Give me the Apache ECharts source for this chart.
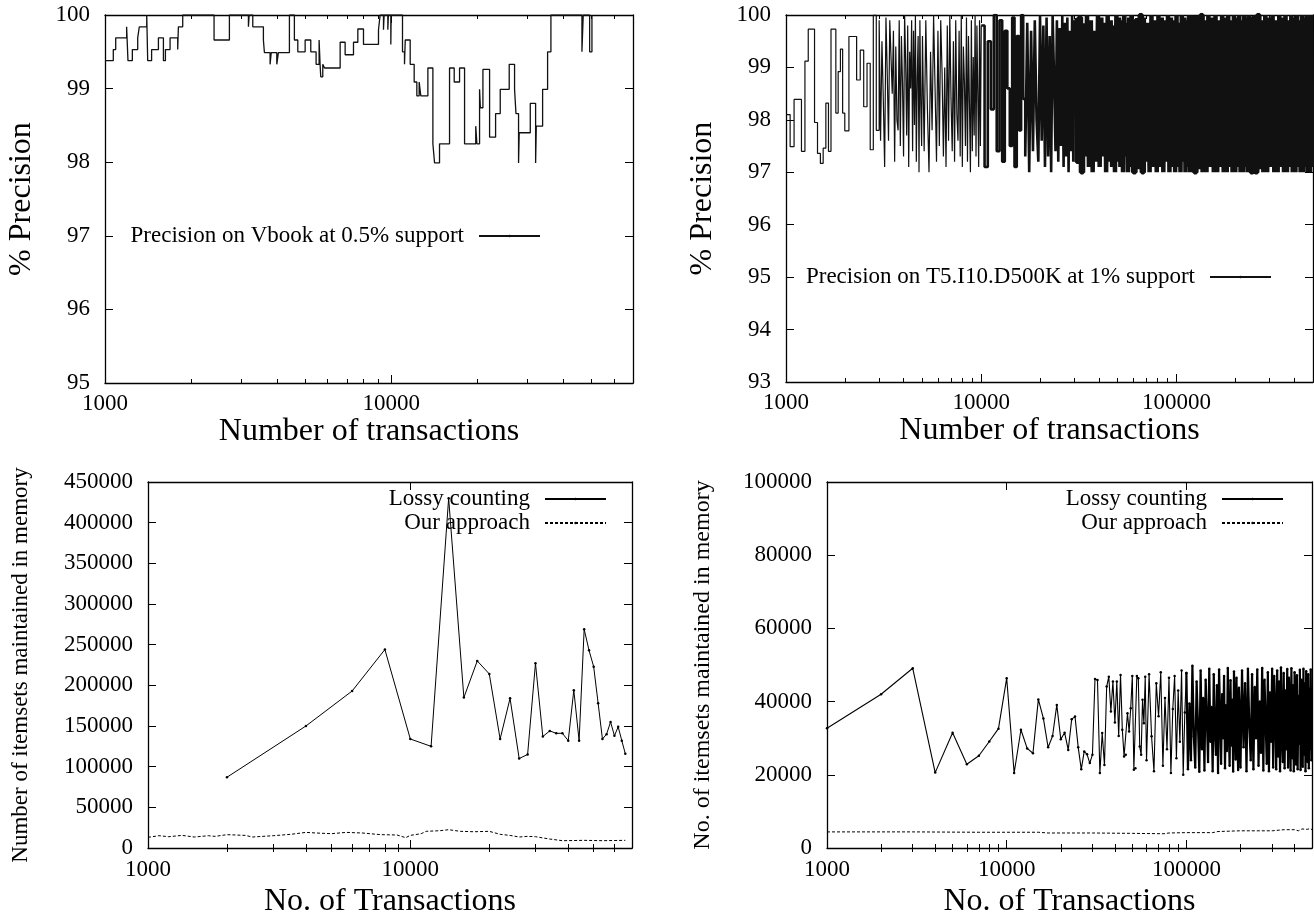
<!DOCTYPE html>
<html>
<head>
<meta charset="utf-8">
<title>Precision and memory of stream itemset mining</title>
<script src="https://cdn.jsdelivr.net/npm/echarts@6/dist/echarts.min.js"></script>
<style>
  html, body { margin: 0; padding: 0; background: #fff; }
  #chart { width: 1314px; height: 920px; }
</style>
</head>
<body>
<div id="chart"></div>
<script>
// ---------- Vbook, 0.5% support: precision level holding from each transaction count ----------
const vbookTx = [1000,1069,1090,1190,1203,1246,1301,1318,1399,1410,
  1455,1537,1600,1626,1688,1795,1805,1869,2405,2721,
  3171,3190,3284,3577,3606,3775,3810,3984,4036,4410,
  4590,4718,5005,5237,5466,5600,5644,5675,5768,5850,
  6633,6905,7385,7647,8004,9030,9152,9401,9450,9735,
  9780,9973,10000,10955,11133,11200,11654,12034,12295,12527,
  12696,13437,13989,14179,14757,15996,16607,17338,18051,19750,
  19934,20367,20500,20923,22077,23170,24054,25854,26991,27300,
  27872,28020,30630,31973,32150,33825,35209,36162,46416,46900,
  49377,50308];
const vbookPrec = [99.38,99.53,99.69,99.84,99.38,99.53,99.69,99.84,100,99.38,
  99.53,99.69,99.38,99.53,99.69,99.53,99.84,100,99.66,100,
  99.84,100,99.84,99.66,99.49,99.33,99.49,99.33,99.49,100,
  99.66,99.50,99.66,99.50,99.33,99.66,99.33,99.16,99.33,99.28,
  99.63,99.46,99.63,99.81,99.60,99.80,100,99.80,100,99.80,
  100,99.60,100,99.50,99.33,99.66,99.33,99.09,98.90,99.09,
  98.90,99.28,98.25,97.99,98.25,99.28,99.09,99.28,98.25,98.49,
  98.25,98.99,98.74,99.26,98.34,98.66,98.99,99.33,98.99,98.66,
  97.99,98.40,98.80,97.99,98.49,98.99,99.50,100,99.50,100,
  99.50,100];

// ---------- T5.I10.D500K, 1% support: precision on a sampling grid that widens with the count ----------
const t5PrecFrom1000 = [98.10,97.49,98.39,98.39,97.40,99.12,99.73,99.73,97.95,97.36,
  97.17,97.46,98.32,97.40,99.73,99.73,98.13,98.92,99.35,98.13];                // every 50
const t5PrecFrom2000 = [97.79,99.59,99.59,98.76,99.33,98.25,99.08,97.43,100.0,97.80]; // every 100
const t5PrecFrom3000 = [99.90,97.60,99.50,98.40,97.10,99.95,98.90,97.60,99.90,99.20,
  98.50,99.70,97.20,99.40,98.00,97.80,99.90,97.50,99.60,98.70,
  97.30,100.0,99.10,97.70,99.80,97.10,99.30,98.60,99.90,97.40,
  99.70,97.90,100.0,97.20,98.80,99.60,97.00,99.90,98.30,97.50];              // every 50
const t5PrecFrom5000 = [99.60,97.40,99.90,98.20,97.00,99.30,97.80,100.0,98.60,97.20,
  99.70,97.50,99.90,98.90,97.30,99.00,97.10,99.80,97.60,100.0,
  98.40,97.40,99.50,97.20,99.90,98.10,97.60,99.70,97.30,100.0,
  97.10,99.40,98.70,97.50,99.95,97.20,99.60,98.30,97.00,99.90,
  97.40,99.20,97.70,100.0,97.30,99.80,98.50,97.10,99.90,97.50];              // every 100
const t5PrecFrom10k = [99.80,97.10,99.50,98.20,100.0,97.40,99.90,97.20,99.70,98.60,
  97.50,99.95,97.10,99.60,97.80,100.0,98.40,97.30,99.85,97.00,
  99.70,97.40,99.90,98.00,97.20,100.0,97.60,99.80,97.10,99.95,
  97.30,99.60,97.00,100.0,98.80,97.40,99.90,97.20,99.75,97.50,
  100.0,97.10,99.85,97.30,99.95,97.00,99.70,97.40,100.0,97.20];              // every 400
const t5PrecFrom30k = [99.90,97.20,99.95,97.00,99.80,97.30,100.0,97.10,99.90,97.00,
  99.70,97.20,100.0,97.10,99.95,97.30,99.85,97.00,100.0,97.20,
  99.90,97.10,99.80,97.00,100.0,97.20,99.95,97.10,99.90,97.00,
  100.0,97.30,99.85,97.00,99.95,97.10,100.0];                                 // every 800
const t5PrecFrom60k = [97.00,99.90,97.10,100.0,97.00,99.95,97.20,99.85,97.00,100.0,
  97.10,99.90,97.00,100.0,97.10,99.95,97.00,99.90,97.20,100.0,
  97.00,99.95,97.10,99.90,97.00,100.0,97.10,99.85,97.00,100.0,
  97.20,99.95,97.00,99.90,97.10,100.0,97.00];                                 // every 1600
const t5PrecFrom120k = [99.95,97.00,99.95,97.10,100.0,97.00,99.90,97.00,100.0,97.10,
  99.95,97.00,100.0,97.00,99.90,97.10,100.0,97.00,99.95,97.00,
  100.0,97.10,99.90,97.00,100.0,97.00,99.95,97.10,100.0,97.00,
  99.90,97.00,100.0,97.10,99.95,97.00,100.0];                                 // every 3200
const t5PrecFrom240k = [97.00,99.95,97.00,100.0,97.10,99.90,97.00,100.0,97.00,99.95,
  97.10,100.0,97.00,99.90,97.00,100.0,97.10,99.95,97.00,100.0,
  97.00,99.90,97.10,100.0,97.00,99.95,97.00,100.0,97.10,99.90,
  97.00,100.0,97.00,99.95,97.10,100.0,97.00,99.90,97.00,100.0,
  97.10];                                                                      // every 6400

// ---------- Vbook memory: itemsets held ----------
const vbookLossyTx = [2000,4000,6000,8000,10000,12000,14000,16000,18000,20000,
  22000,24000,26000,28000,30000,32000,34000,36000,38000,40000,
  42000,44000,46000,48000,50000,52000,54000,56000,58000,60000,
  62000,64000,66000];
const vbookLossy = [87000,150000,193000,244000,134000,125000,430000,185000,230000,214000,
  134000,184000,110000,115000,227000,137000,144000,141000,141000,132000,
  194000,132000,269000,243000,223000,178000,134000,140000,155000,138000,
  149000,132000,116000];
const vbookOursTx = [1000,1100,1200,1350,1500,1700,1800,2000,2350,2500,
  3000,3500,4000,4400,5000,5700,6600,7700,8900,9600,
  10000,11000,11500,13000,14000,15500,17500,20000,22000,24000,
  26000,28000,30000,34000,38000,46000,54000,66000];
const vbookOurs = [13100,15100,13900,15500,13500,15100,14300,16400,15500,13500,
  15100,16800,19200,18400,17600,19200,18400,16400,16000,12700,
  15500,17600,20500,21300,22500,20500,20000,20500,16800,15500,
  13500,14300,13900,11000,9000,9400,9000,9400];

// ---------- T5.I10.D500K memory: Lossy counting on a widening grid ----------
const t5LossyFrom1000 = [32700,42000,49100,20600,31500,22900,25200,29100,32600,46400,
  20500,32300,27200,25900,40600,35400,27500,30600,39100,29700,
  31500,26800,35200,35900,27500,21500,26400,25600,23200,25500,
  46200,45900,20500,31400,22700,44100,46800,37300,45500,34300,
  45500,30600,47300,32300,25000,25500,36800,31800,38200,47000,
  21400,21800,47000,46400,27700,25500,40500,34100,46800];                     // every 1000
const t5LossyFrom60k = [24000,47500,30500,21000,45000,36000,48000,22500,41000,27000,
  46500,20500,38000,47000,24500,43000,29000,48500,20000,37000];               // every 2000
const t5LossyFrom100k = [47800,21500,39500,24000,49800,30500,22000,45500,33500,20800,
  48500,27000,41000,21200,46000,35500,23500,49000,29000,38500,
  21000,47500,32000,25500,44500,20500,48800,36500,23000,42000,
  30000,47000,21800,39000,26500,49200,33000,22500,45800,28000,
  40500,20900,48200,35000,24200,46500,31000,21300,43800,37500];               // every 2000
const t5LossyFrom200k = [22000,48500,27500,45000,21000,49000,33000,24000,47500,21500,
  44000,30000,48800,22500,40000,26000,49200,21200,46000,35000,
  23000,48000,21000,42500,29000,49000,22000,47000,38000,21500,
  48500,25000,45500,21000,49300,31500,23500,47800,21800,43000,
  27000,48900,22000,46500,36000,21200,49100,24500,44500,21000,
  48000,32500,22800,47200,21500,41500,28500,48700,21300,46000,
  34000,22200,49000,25500,45000,21000,48300,30500,23500,47500,
  21800,43500,27000,48800,24000];                                             // every 4000
const t5OursTx = [1000,3000,7000,10000,15000,17000,30000,50000,75000,80000,
  100000,140000,150000,200000,250000,300000,350000,400000,420000,440000,
  470000,490000,500000];
const t5Ours = [4400,4400,4300,4300,4300,4100,4100,4000,3900,4100,
  4200,4200,4500,4700,4700,4700,5000,5000,4700,5200,
  5100,5300,5000];

// ---------- axis ticks ----------
const majorsShort = [1000, 10000];
const minorsShort = [2000,3000,4000,5000,6000,7000,8000,9000,20000,30000,40000,50000,60000];
const majorsLong = [1000, 10000, 100000];
const minorsLong = [2000,3000,4000,5000,6000,7000,8000,9000,
  20000,30000,40000,50000,60000,70000,80000,90000,200000,300000,400000];

// ---------- helpers ----------
const FONT = '"Liberation Serif", "Times New Roman", Times, serif';
const INK = '#000';

function zip(xs, ys) { return ys.map((y, i) => [xs[i], y]); }
function sampled(start, step, values) { return values.map((v, i) => [start + i * step, v]); }

function logAxes(grid, min, max, majors, minors, name, nameGap, labelMargin) {
  const base = {
    type: 'log', logBase: 10, min: min, max: max, gridIndex: grid,
    splitLine: { show: false }, minorTick: { show: false }, minorSplitLine: { show: false }
  };
  const frame = { show: true, onZero: false, lineStyle: { color: INK, width: 1.3 } };
  const tick = (vals, len) => ({ show: true, inside: true, length: len, customValues: vals,
    lineStyle: { color: INK, width: 1 } });
  return [
    Object.assign({}, base, {
      position: 'bottom', name: name, nameLocation: 'middle', nameGap: nameGap,
      nameTextStyle: { fontFamily: FONT, fontSize: 32, color: INK },
      axisLine: frame, axisTick: tick(majors, 8),
      axisLabel: { show: true, customValues: majors, margin: labelMargin, fontFamily: FONT,
        fontSize: 23, color: INK, formatter: v => String(Math.round(v)) }
    }),
    Object.assign({}, base, { position: 'bottom', axisLine: { show: false },
      axisTick: tick(minors, 4), axisLabel: { show: false } }),
    Object.assign({}, base, { position: 'top', axisLine: frame,
      axisTick: tick(majors, 8), axisLabel: { show: false } }),
    Object.assign({}, base, { position: 'top', axisLine: { show: false },
      axisTick: tick(minors, 4), axisLabel: { show: false } })
  ];
}

function valueAxes(grid, min, max, interval, name, nameGap, nameSize) {
  const base = { type: 'value', min: min, max: max, interval: interval, gridIndex: grid,
    splitLine: { show: false } };
  const frame = { show: true, onZero: false, lineStyle: { color: INK, width: 1.3 } };
  const tick = { show: true, inside: true, length: 8, lineStyle: { color: INK, width: 1 } };
  return [
    Object.assign({}, base, {
      position: 'left', name: name, nameLocation: 'middle', nameGap: nameGap, nameRotate: 90,
      nameTextStyle: { fontFamily: FONT, fontSize: nameSize, color: INK },
      axisLine: frame, axisTick: tick,
      axisLabel: { margin: 15, fontFamily: FONT, fontSize: 23, color: INK,
        formatter: v => String(v) }
    }),
    Object.assign({}, base, { position: 'right', axisLine: frame, axisTick: tick,
      axisLabel: { show: false } })
  ];
}

function key(names, right, top) {
  return {
    data: names, orient: 'vertical', align: 'right', right: right, top: top,
    padding: 0, itemGap: 0, itemWidth: 61, itemHeight: 3, selectedMode: false,
    textStyle: { fontFamily: FONT, fontSize: 23, color: INK, lineHeight: 24, padding: [0, 10, 0, 0] }
  };
}

function stepLine(name, xi, yi, width, data) {
  return { name: name, type: 'line', step: 'end', xAxisIndex: xi, yAxisIndex: yi,
    symbol: 'none', silent: true,
    lineStyle: { color: '#111', width: width, join: 'bevel', cap: 'butt' },
    itemStyle: { color: '#111' }, data: data };
}

function lossyLine(xi, yi, width, data) {
  return { name: 'Lossy counting', type: 'line', xAxisIndex: xi, yAxisIndex: yi,
    symbol: 'circle', symbolSize: 2.5, showAllSymbol: true, silent: true,
    lineStyle: { color: INK, width: width, join: 'bevel' }, itemStyle: { color: INK }, data: data };
}

function oursLine(xi, yi, data) {
  return { name: 'Our approach', type: 'line', xAxisIndex: xi, yAxisIndex: yi,
    symbol: 'none', silent: true, lineStyle: { color: INK, width: 1, type: [3, 2] },
    itemStyle: { color: INK }, data: data };
}

// sparse early part, crowded middle and saturated tail of the T5 precision trace
const t5Early = [].concat(
  sampled(1000, 50, t5PrecFrom1000),
  sampled(2000, 100, t5PrecFrom2000),
  sampled(3000, 50, t5PrecFrom3000),
  sampled(5000, 100, t5PrecFrom5000),
  [[10000, t5PrecFrom10k[0]]]
);
const t5Mid = sampled(10000, 400, t5PrecFrom10k).concat([[30000, t5PrecFrom30k[0]]]);
const t5Late = [].concat(
  sampled(30000, 800, t5PrecFrom30k),
  sampled(60000, 1600, t5PrecFrom60k),
  sampled(120000, 3200, t5PrecFrom120k),
  sampled(240000, 6400, t5PrecFrom240k)
);
const t5LossyEarly = [].concat(
  sampled(1000, 1000, t5LossyFrom1000),
  sampled(60000, 2000, t5LossyFrom60k),
  [[100000, t5LossyFrom100k[0]]]
);
const t5LossyLate = [].concat(
  sampled(100000, 2000, t5LossyFrom100k),
  sampled(200000, 4000, t5LossyFrom200k)
);

const option = {
  animation: false,
  backgroundColor: '#fff',
  textStyle: { fontFamily: FONT },
  grid: [
    { left: 105, top: 15, width: 528, height: 368, containLabel: false, outerBoundsMode: 'none' },
    { left: 786, top: 15, width: 527, height: 367, containLabel: false, outerBoundsMode: 'none' },
    { left: 148, top: 482, width: 484, height: 366, containLabel: false, outerBoundsMode: 'none' },
    { left: 827, top: 482, width: 485, height: 366, containLabel: false, outerBoundsMode: 'none' }
  ],
  xAxis: [].concat(
    logAxes(0, 1000, 70000, majorsShort, minorsShort, 'Number of transactions', 30, 9),
    logAxes(1, 1000, 500000, majorsLong, minorsLong, 'Number of transactions', 30, 9),
    logAxes(2, 1000, 70000, majorsShort, minorsShort, 'No. of Transactions', 38, 10),
    logAxes(3, 1000, 500000, majorsLong, minorsLong, 'No. of Transactions', 38, 10)
  ),
  yAxis: [].concat(
    valueAxes(0, 95, 100, 1, '% Precision', 67, 32),
    valueAxes(1, 93, 100, 1, '% Precision', 67, 32),
    valueAxes(2, 0, 450000, 50000, 'Number of itemsets maintained in memory', 116, 23),
    valueAxes(3, 0, 100000, 20000, 'No. of itemsets maintained in memory', 112, 24)
  ),
  legend: [
    key(['Precision on Vbook at 0.5% support'], 773, 224),
    key(['Precision on T5.I10.D500K at 1% support'], 42, 265),
    key(['Lossy counting', 'Our approach'], 707, 487),
    key(['Lossy counting', 'Our approach'], 30, 487)
  ],
  series: [
    stepLine('Precision on Vbook at 0.5% support', 0, 0, 1.3, zip(vbookTx, vbookPrec)),
    stepLine('Precision on T5.I10.D500K at 1% support', 4, 2, 1.2, t5Early),
    stepLine('Precision on T5.I10.D500K at 1% support', 4, 2, 2.6, t5Mid),
    stepLine('Precision on T5.I10.D500K at 1% support', 4, 2, 4.5, t5Late),
    lossyLine(8, 4, 1, zip(vbookLossyTx, vbookLossy)),
    oursLine(8, 4, zip(vbookOursTx, vbookOurs)),
    lossyLine(12, 6, 1.1, t5LossyEarly),
    lossyLine(12, 6, 2.2, t5LossyLate),
    oursLine(12, 6, zip(t5OursTx, t5Ours))
  ]
};

const chart = echarts.init(document.getElementById('chart'), null, { renderer: 'canvas' });
chart.setOption(option);
</script>
</body>
</html>
